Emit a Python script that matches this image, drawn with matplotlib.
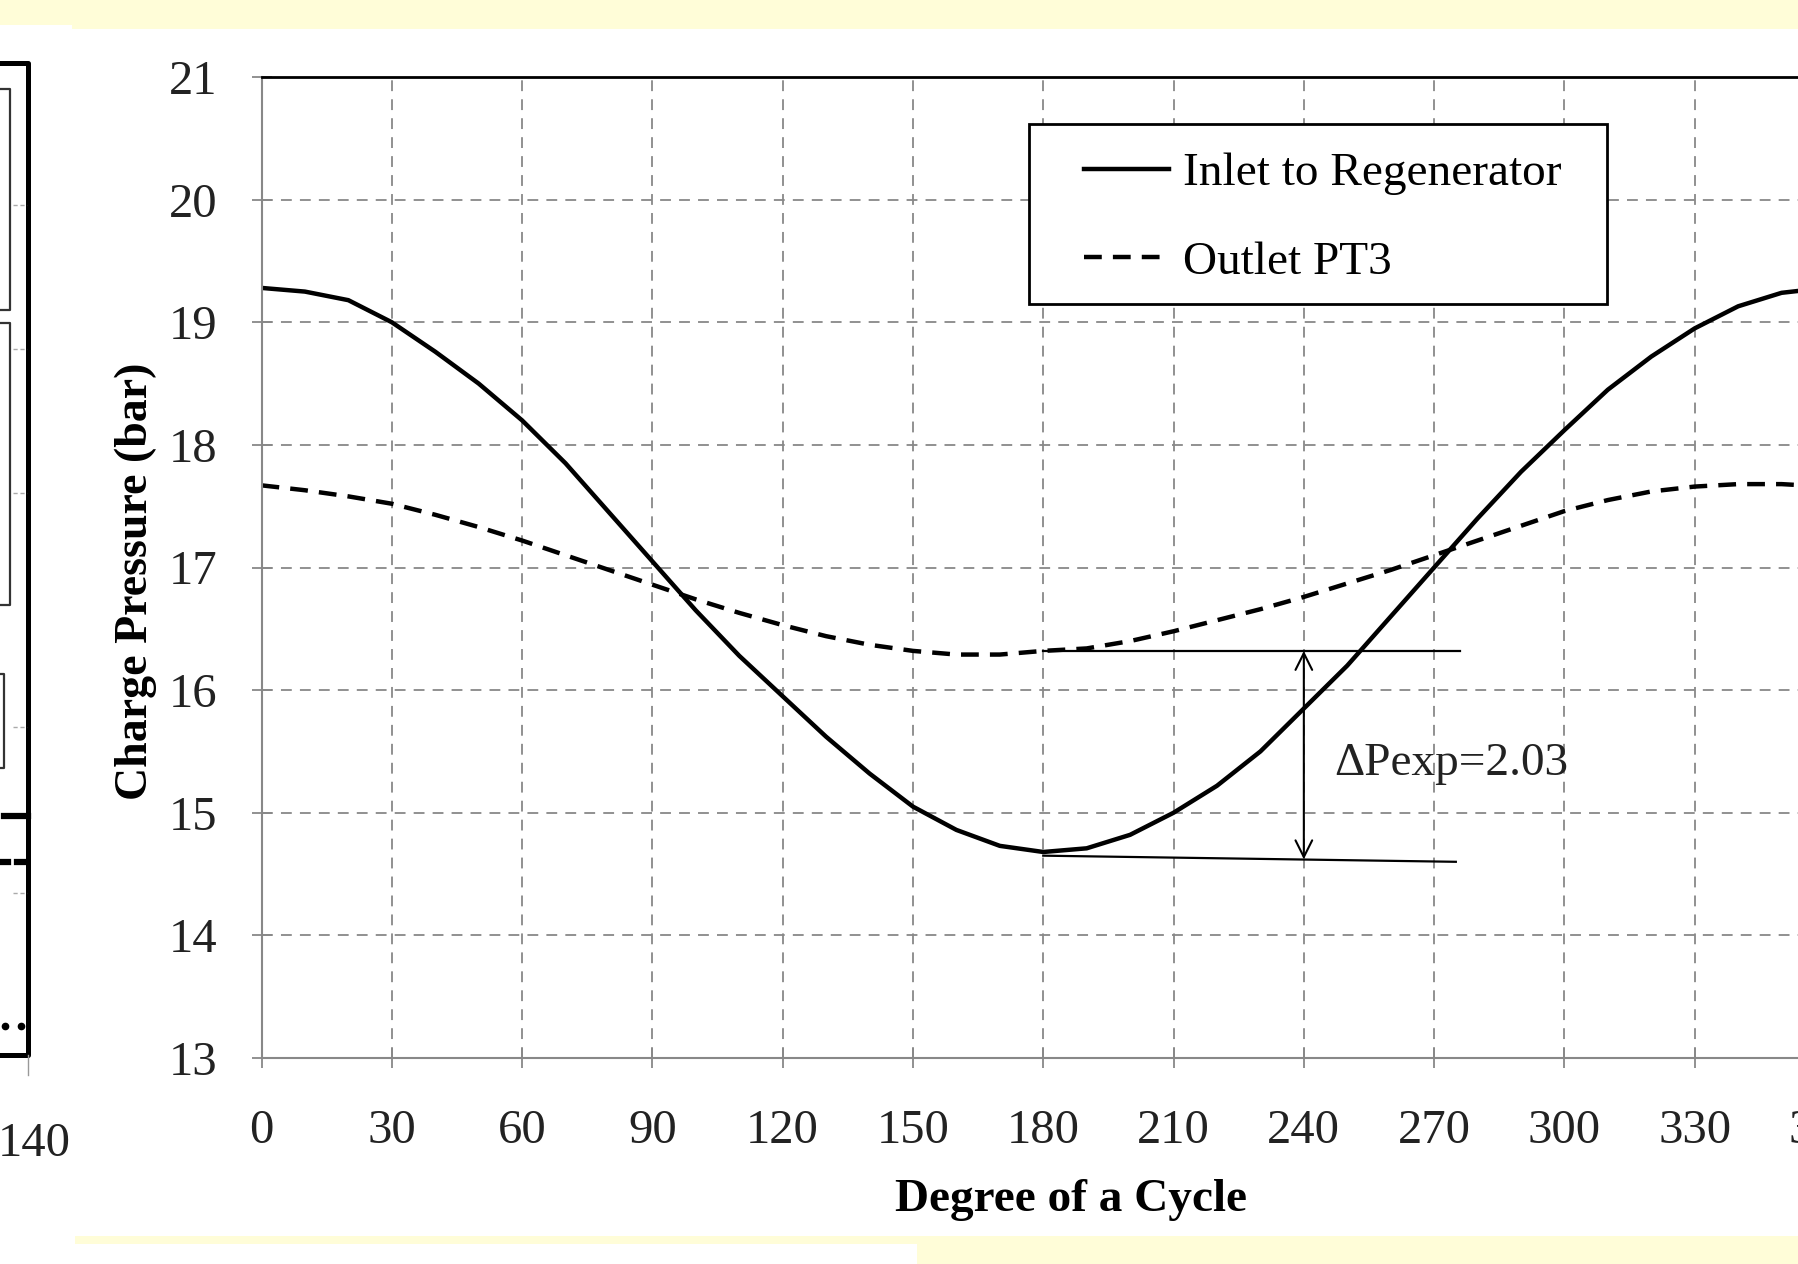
import matplotlib
matplotlib.use("Agg")
import matplotlib.pyplot as plt
from matplotlib.patches import Rectangle

plt.rcParams['font.family'] = ['Liberation Serif', 'DejaVu Serif']

# Degree of a cycle and charge pressure (bar)
deg = list(range(0, 361, 10))
inlet = [19.28, 19.25, 19.18, 19.0, 18.76, 18.5, 18.2, 17.85, 17.45, 17.05,
         16.65, 16.28, 15.95, 15.62, 15.32, 15.05, 14.86, 14.73, 14.68, 14.71,
         14.82, 15.0, 15.22, 15.5, 15.85, 16.2, 16.6, 17.0, 17.4, 17.78,
         18.12, 18.45, 18.72, 18.95, 19.13, 19.24, 19.28]
outlet = [17.67, 17.63, 17.58, 17.52, 17.43, 17.33, 17.22, 17.1, 16.98, 16.86,
          16.74, 16.63, 16.53, 16.44, 16.37, 16.32, 16.29, 16.29, 16.32, 16.34,
          16.4, 16.48, 16.57, 16.66, 16.76, 16.87, 16.98, 17.1, 17.22, 17.34,
          17.46, 17.55, 17.62, 17.66, 17.68, 17.68, 17.66]

x_ticks = list(range(0, 361, 30))
y_ticks = list(range(13, 22))

# delta-P marker lines
dp_top = 16.32
dp_bot = 14.62
dp_x = 240
dp_label = '\u0394Pexp=2.03'

W, H = 1798, 1264
fig = plt.figure(figsize=(W / 100, H / 100), dpi=100)
fig.patch.set_facecolor('white')

# background / screenshot decorations in pixel coordinates
bg = fig.add_axes([0, 0, 1, 1], zorder=0)
bg.set_xlim(0, W)
bg.set_ylim(H, 0)
bg.axis('off')
yel = '#fffdd8'
bg.add_patch(Rectangle((0, 0), 72, 25, color=yel, lw=0))
bg.add_patch(Rectangle((72, 0), W - 72, 29, color=yel, lw=0))
bg.add_patch(Rectangle((75, 1236), W - 75, 8, color=yel, lw=0))
bg.add_patch(Rectangle((917, 1236), W - 917, H - 1236, color=yel, lw=0))

# edge of neighbouring chart on the left
bg.plot([0, 28, 28, 0], [63, 63, 1055, 1055], color='black', lw=3.6)
bg.plot([28, 28], [1055, 1075], color='#999999', lw=1)
for y0, y1, xr in [(89, 310, 10), (323, 605, 10), (674, 768, 4)]:
    bg.plot([0, xr, xr, 0], [y0, y0, y1, y1], color='#333333', lw=1.6)
for yy in [205, 349, 493, 727, 893]:
    bg.plot([13, 27], [yy, yy], color='#aaaaaa', lw=1, ls=(0, (3, 2)))
bg.plot([4, 28], [816, 816], color='black', lw=4.5)
bg.plot([0, 8], [862, 862], color='black', lw=4.5)
bg.plot([17, 27], [862, 862], color='black', lw=4.5)
bg.plot([5, 21], [1026, 1026], color='black', lw=0, marker='o', ms=4.5)
bg.text(71, 1144, '140', ha='right', va='center', fontsize=35, color='#222222')

# main chart, extends past the right edge like the screenshot
ax = fig.add_axes([261.5 / W, 1 - 1058 / H, 1563.5 / W, 981 / H], zorder=1)
ax.plot(deg, inlet, color='black', lw=3.2, label='Inlet to Regenerator')
ax.plot(deg, outlet, color='black', lw=3.2, dashes=(4, 2.5), label='Outlet PT3')

ax.plot([180, 276], [dp_top, dp_top], color='black', lw=1.6)
ax.plot([180, 275], [dp_bot + 0.03, dp_bot - 0.02], color='black', lw=1.6)
ax.annotate('', xy=(dp_x, dp_top), xytext=(dp_x, dp_bot),
            arrowprops=dict(arrowstyle='<->', lw=1.5, color='black',
                            mutation_scale=30, shrinkA=0, shrinkB=0))
ax.text(247, 15.4, dp_label, ha='left', va='center', fontsize=34, color='#222222')

ax.set_xlim(0, 360)
ax.set_ylim(13, 21)
ax.set_xticks(x_ticks)
ax.set_yticks(y_ticks)
ax.grid(True, color='#888888', lw=1.3, ls=(0, (6, 4.5)))
ax.set_axisbelow(True)
ax.tick_params(direction='inout', length=14, width=1.3, color='#888888',
               labelsize=35, labelcolor='#222222')
ax.tick_params(axis='x', pad=30)
ax.tick_params(axis='y', pad=25)
ax.spines['left'].set_color('#888888')
ax.spines['left'].set_linewidth(1.5)
ax.spines['bottom'].set_color('#888888')
ax.spines['bottom'].set_linewidth(1.5)
ax.spines['top'].set_color('black')
ax.spines['top'].set_linewidth(2)
ax.spines['right'].set_visible(False)

ax.set_xlabel('Degree of a Cycle', fontsize=34, fontweight='bold')
ax.set_ylabel('Charge Pressure (bar)', fontsize=33, fontweight='bold')
ax.xaxis.set_label_coords(0.518, -0.123)
ax.yaxis.set_label_coords(-0.067, 0.486)

# legend frame drawn separately so the padding matches the original box
ax.add_patch(Rectangle((1029 / W, 1 - 304 / H), 578 / W, 180 / H,
                       transform=fig.transFigure, facecolor='white',
                       edgecolor='black', lw=2, zorder=5))
leg = ax.legend(loc='upper left', bbox_to_anchor=(1084 / W, 1 - 152 / H),
                bbox_transform=fig.transFigure, borderaxespad=0, borderpad=0,
                fontsize=34, handlelength=1.8, handletextpad=0.3,
                labelspacing=0.97, frameon=False)
leg.set_zorder(6)

fig.savefig('out.png', dpi=100, facecolor=fig.get_facecolor())
